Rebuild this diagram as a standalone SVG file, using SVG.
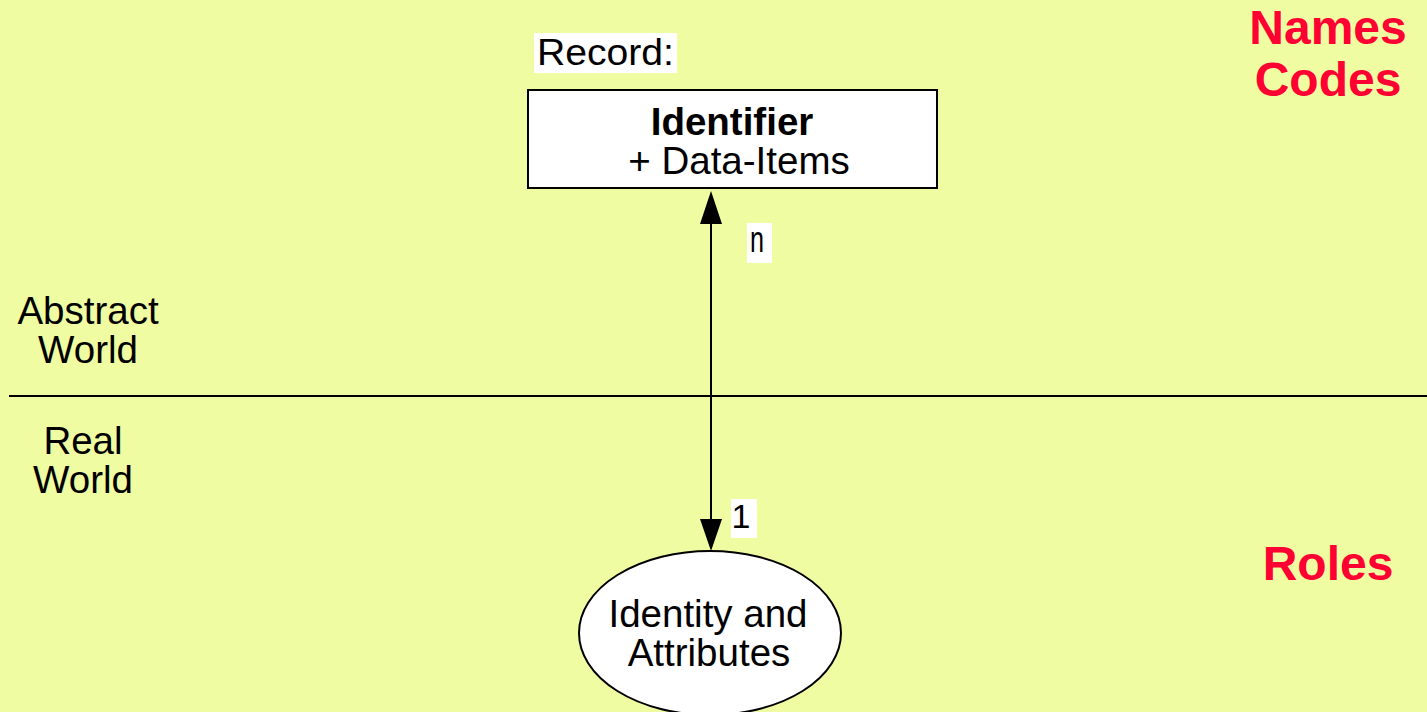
<svg xmlns="http://www.w3.org/2000/svg" width="1427" height="712" viewBox="0 0 1427 712">
  <style>
    .t { font-family: "Liberation Sans", Arial, sans-serif; fill: #000; }
    .lbl { font-size: 38.5px; text-anchor: middle; }
    .red { font-family: "Liberation Sans", Arial, sans-serif; font-weight: bold; font-size: 48px; fill: #FF0033; text-anchor: middle; }
    .tag { fill: #fff; }
    .edge { stroke: #000; stroke-width: 2; fill: none; }
    .head { fill: #000; }
  </style>

  <rect width="1427" height="712" fill="#EFFCA1"/>

  <!-- divider between abstract and real world -->
  <line x1="9" y1="396" x2="1427" y2="396" stroke="#000" stroke-width="2"/>

  <!-- side captions -->
  <g id="abstract-world">
    <text class="t lbl"><tspan x="88" y="324">Abstract</tspan><tspan x="88" y="363">World</tspan></text>
  </g>
  <g id="real-world">
    <text class="t lbl"><tspan x="83" y="454">Real</tspan><tspan x="83" y="493">World</tspan></text>
  </g>
  <g id="names-codes">
    <text class="red"><tspan x="1328" y="44">Names</tspan><tspan x="1328" y="96">Codes</tspan></text>
  </g>
  <g id="roles">
    <text class="red" x="1328" y="580">Roles</text>
  </g>

  <!-- record node -->
  <g id="record-label">
    <rect class="tag" x="534" y="33" width="143" height="40"/>
    <text class="t" x="537" y="65" font-size="37" textLength="137" lengthAdjust="spacingAndGlyphs">Record:</text>
  </g>
  <g id="record">
    <rect x="528" y="90" width="409" height="98" fill="#fff" stroke="#000" stroke-width="2"/>
    <text class="t lbl"><tspan x="732" y="135" font-weight="bold">Identifier</tspan><tspan x="739" y="174">+ Data-Items</tspan></text>
  </g>

  <!-- entity node -->
  <g id="entity">
    <ellipse cx="710" cy="633" rx="131" ry="82" fill="#fff" stroke="#000" stroke-width="2"/>
    <text class="t lbl"><tspan x="708" y="627">Identity and</tspan><tspan x="709" y="666">Attributes</tspan></text>
  </g>

  <!-- connector with cardinalities -->
  <g id="connectors">
    <line class="edge" x1="711" y1="222" x2="711" y2="522"/>
    <path class="head" d="M711,191 L700,224 L722,224 Z"/>
    <path class="head" d="M711,551 L700,519 L722,519 Z"/>
    <rect class="tag" x="747" y="223" width="25" height="40"/>
    <text class="t" x="757" y="252" font-size="36" text-anchor="middle" textLength="14" lengthAdjust="spacingAndGlyphs">n</text>
    <rect class="tag" x="731" y="499" width="26" height="39"/>
    <text class="t" x="741" y="528" font-size="34" text-anchor="middle">1</text>
  </g>
</svg>
